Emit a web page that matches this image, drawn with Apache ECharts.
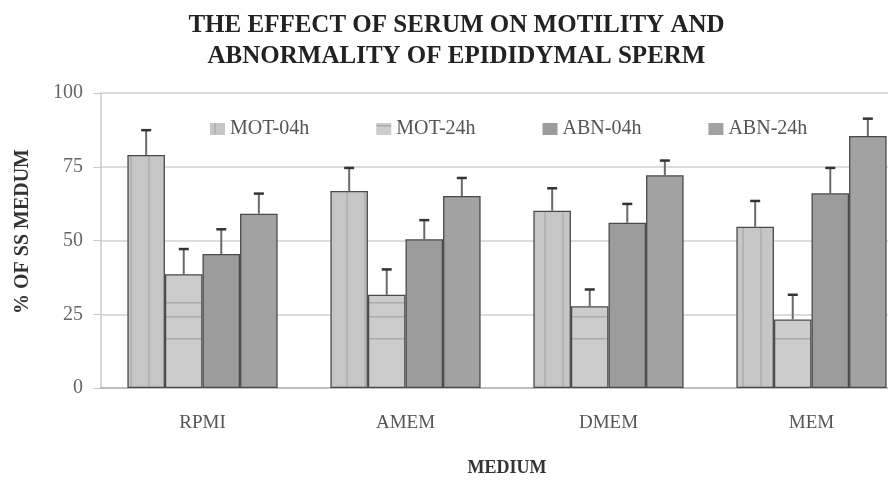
<!DOCTYPE html>
<html>
<head>
<meta charset="utf-8">
<script src="https://cdn.jsdelivr.net/npm/echarts@6/dist/echarts.min.js"></script>
<style>
  html, body { margin: 0; padding: 0; background: #fff; overflow: hidden; }
  /* the original figure is cropped on the right, so the chart is a bit wider than the window */
  #chart { width: 913px; height: 482px; }
</style>
</head>
<body>
<div id="chart"></div>
<script>
  // data
  var categories = ['RPMI', 'AMEM', 'DMEM', 'MEM'];
  var seriesNames = ['MOT-04h', 'MOT-24h', 'ABN-04h', 'ABN-24h'];
  var mot04 = [79.0, 66.8, 60.1, 54.7];
  var mot04Sd = [8.4, 7.8, 7.6, 8.7];
  var mot24 = [38.6, 31.6, 27.7, 23.2];
  var mot24Sd = [8.5, 8.6, 5.7, 8.4];
  var abn04 = [45.4, 50.4, 56.0, 66.0];
  var abn04Sd = [8.4, 6.5, 6.4, 8.6];
  var abn24 = [59.1, 65.1, 72.1, 85.4];
  var abn24Sd = [6.8, 6.1, 5.0, 5.9];
  var yTicks = [0, 25, 50, 75, 100];

  var values = [mot04, mot24, abn04, abn24];
  var sds = [mot04Sd, mot24Sd, abn04Sd, abn24Sd];

  // fill patterns (vertical stripes / horizontal lines)
  function vStripes() {
    var c = document.createElement('canvas');
    c.width = 18; c.height = 4;
    var ctx = c.getContext('2d');
    ctx.fillStyle = '#c6c6c6';
    ctx.fillRect(0, 0, 18, 4);
    ctx.fillStyle = '#b3b3b3';
    ctx.fillRect(4, 0, 2, 4);
    return c;
  }
  function hLines() {
    var c = document.createElement('canvas');
    c.width = 4; c.height = 150;
    var ctx = c.getContext('2d');
    ctx.fillStyle = '#cccccc';
    ctx.fillRect(0, 0, 4, 150);
    ctx.fillStyle = '#aaaaaa';
    [2, 16, 38].forEach(function (y) { ctx.fillRect(0, y, 4, 1.5); });
    return c;
  }
  var fills = [
    { image: vStripes(), repeat: 'repeat' },
    { image: hLines(), repeat: 'repeat' },
    '#9c9c9c',
    '#a2a2a2'
  ];

  var serif = '"Liberation Serif", "DejaVu Serif", serif';
  var barW = 0.185;

  var errData = [];
  values.forEach(function (arr, s) {
    arr.forEach(function (v, i) {
      errData.push([i, s, v, v + sds[s][i]]);
    });
  });

  var series = seriesNames.map(function (name, s) {
    return {
      name: name,
      type: 'bar',
      data: values[s],
      barWidth: (barW * 100) + '%',
      barGap: '0%',
      itemStyle: { color: fills[s], borderColor: '#4a4a4a', borderWidth: 1.3 }
    };
  });

  series.push({
    type: 'custom',
    data: errData,
    z: 5,
    encode: { x: 0, y: 3 },
    renderItem: function (params, api) {
      var band = api.size([1, 0])[0];
      var w = band * barW;
      var off = (api.value(1) - 1.5) * w;
      var top = api.coord([api.value(0), api.value(3)]);
      var base = api.coord([api.value(0), api.value(2)]);
      var x = top[0] + off;
      return {
        type: 'group',
        children: [
          { type: 'line', shape: { x1: x, y1: base[1], x2: x, y2: top[1] },
            style: { stroke: '#6a6a6a', lineWidth: 2 } },
          { type: 'line', shape: { x1: x - 5, y1: top[1], x2: x + 5, y2: top[1] },
            style: { stroke: '#333', lineWidth: 2.5 } }
        ]
      };
    }
  });

  var myChart = echarts.init(document.getElementById('chart'));
  myChart.setOption({
    animation: false,
    title: {
      text: 'THE EFFECT OF SERUM ON MOTILITY AND\nABNORMALITY OF EPIDIDYMAL SPERM',
      left: 'center',
      top: 5,
      textStyle: { fontFamily: serif, fontWeight: 'bold', fontSize: 25, lineHeight: 31, color: '#222' }
    },
    legend: {
      data: seriesNames,
      left: 205,
      top: 114,
      icon: 'rect',
      itemWidth: 15,
      itemHeight: 12,
      itemGap: 67,
      itemStyle: { borderWidth: 0 },
      textStyle: { fontFamily: serif, fontSize: 20, color: '#555' }
    },
    grid: { left: 101, right: 0, top: 93, bottom: 89 },
    xAxis: {
      type: 'category',
      data: categories,
      name: 'MEDIUM',
      nameLocation: 'middle',
      nameGap: 71,
      nameTextStyle: { fontFamily: serif, fontWeight: 'bold', fontSize: 18, color: '#333' },
      axisLine: { lineStyle: { color: '#b4b4b4', width: 1.5 } },
      axisTick: { length: 8, lineStyle: { color: '#c4c4c4' } },
      axisLabel: { margin: 26, fontFamily: serif, fontSize: 19, color: '#555' }
    },
    yAxis: {
      type: 'value',
      min: yTicks[0],
      max: yTicks[yTicks.length - 1],
      interval: 25,
      name: '% OF SS MEDUM',
      nameLocation: 'middle',
      nameGap: 68,
      nameTextStyle: { fontFamily: serif, fontWeight: 'bold', fontSize: 20, color: '#333', padding: [0, 0, 0, 18] },
      axisLine: { show: true, lineStyle: { color: '#c8c8c8', width: 1.5 } },
      axisTick: { show: true, length: 8, lineStyle: { color: '#c8c8c8' } },
      axisLabel: { margin: 18, fontFamily: serif, fontSize: 20, color: '#666' },
      splitLine: { lineStyle: { color: '#d2d2d2', width: 1.5 } }
    },
    series: series
  });
</script>
</body>
</html>
